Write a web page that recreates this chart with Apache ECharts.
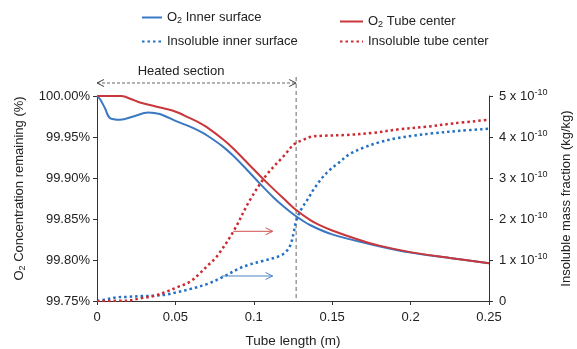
<!DOCTYPE html>
<html>
<head>
<meta charset="utf-8">
<script src="https://cdn.jsdelivr.net/npm/echarts@6/dist/echarts.min.js"></script>
<style>
html,body{margin:0;padding:0;background:#fff;overflow:hidden;}
#c{width:577px;height:349px;}
</style>
</head>
<body>
<div id="c"></div>
<script>
// ---- data ----
// O2 inner surface (solid blue), % remaining
var xO2Inner = [0, 0.002, 0.0051, 0.0083, 0.0147, 0.0232, 0.0327, 0.040, 0.0508, 0.0593, 0.0657, 0.0705, 0.0805, 0.0869, 0.095, 0.1037, 0.1124, 0.1187, 0.127, 0.1358, 0.15, 0.175, 0.2, 0.225, 0.25];
var o2Inner  = [100, 99.996, 99.985, 99.973, 99.971, 99.975, 99.980, 99.978, 99.969, 99.9626, 99.9568, 99.9515, 99.938, 99.9271, 99.9113, 99.8935, 99.8765, 99.8658, 99.8533, 99.8427, 99.8313, 99.819, 99.809, 99.8025, 99.796];
// O2 tube center (solid red), % remaining
var xO2Center = [0, 0.0157, 0.022, 0.0274, 0.038, 0.0486, 0.0593, 0.0657, 0.070, 0.0805, 0.0869, 0.0997, 0.108, 0.119, 0.127, 0.1358, 0.142, 0.15, 0.165, 0.18, 0.2016, 0.225, 0.25];
var o2Center  = [100, 100, 99.996, 99.992, 99.987, 99.982, 99.973, 99.967, 99.962, 99.947, 99.936, 99.911, 99.895, 99.875, 99.861, 99.849, 99.8425, 99.836, 99.826, 99.8175, 99.809, 99.8025, 99.796];
// Insoluble inner surface (dotted blue), x 1e-10 kg/kg
var xInsInner = [0, 0.006, 0.0125, 0.019, 0.0285, 0.036, 0.0444, 0.0508, 0.0593, 0.070, 0.0805, 0.091, 0.0965, 0.106, 0.1166, 0.121, 0.1235, 0.1255, 0.127, 0.130, 0.1347, 0.138, 0.1435, 0.1485, 0.1538, 0.161, 0.170, 0.180, 0.191, 0.2016, 0.214, 0.231, 0.25];
var insInner  = [0, 0.04, 0.09, 0.10, 0.12, 0.13, 0.16, 0.21, 0.29, 0.41, 0.59, 0.80, 0.88, 0.98, 1.10, 1.22, 1.38, 1.68, 1.95, 2.22, 2.50, 2.71, 3.00, 3.20, 3.36, 3.58, 3.74, 3.87, 3.97, 4.03, 4.09, 4.15, 4.20];
// Insoluble tube center (dotted red), x 1e-10 kg/kg
var xInsCenter = [0, 0.019, 0.0285, 0.036, 0.0444, 0.0508, 0.0593, 0.0657, 0.071, 0.0763, 0.0869, 0.0975, 0.108, 0.1187, 0.126, 0.1315, 0.137, 0.144, 0.159, 0.176, 0.193, 0.210, 0.227, 0.25];
var insCenter  = [0, 0.01, 0.07, 0.12, 0.23, 0.33, 0.47, 0.68, 0.88, 1.08, 1.69, 2.46, 3.07, 3.52, 3.83, 3.93, 4.01, 4.03, 4.05, 4.10, 4.19, 4.25, 4.33, 4.42];

var xTicks = [0, 0.05, 0.1, 0.15, 0.2, 0.25];
var leftTicks = [99.75, 99.80, 99.85, 99.90, 99.95, 100.00];
var rightTicks = [0, 1, 2, 3, 4, 5];

// annotations
var heatedEnd = 0.127;
var redArrow = {x0: 0.0869, x1: 0.112, y: 1.70};
var blueArrow = {x0: 0.0795, x1: 0.112, y: 0.61};

var BLUE = '#3a78c3', RED = '#c8373b', BLUE_DOT = '#2270c4', RED_DOT = '#cc2a30';
var FONT = '"Liberation Sans", Arial, Helvetica, sans-serif';

function pairs(xs, ys){ return xs.map(function(x,i){ return [x, ys[i]]; }); }

var chart = echarts.init(document.getElementById('c'), null, {width: 577, height: 349});
var names = ['O2 Inner surface', 'Insoluble inner surface', 'O2 Tube center', 'Insoluble tube center'];
function legendFmt(n){
  if (n.indexOf('O2') === 0) return '{a|O}{s|2}{a|' + n.slice(2) + '}';
  return '{a|' + n + '}';
}
var legendRich = {
  a: {fontSize: 13, fontFamily: FONT, color: '#222'},
  s: {fontSize: 9, fontFamily: FONT, color: '#222', padding: [6, 0, 0, 0]}
};
function mkLegend(name, left, top, w){
  return {
    data: [name], left: left, top: top, padding: 0, itemWidth: w, itemHeight: 14, itemGap: 5,
    itemStyle: {opacity: 0},
    formatter: legendFmt, textStyle: {fontFamily: FONT, fontSize: 13, color: '#222', rich: legendRich},
    selectedMode: false
  };
}

var option = {
  animation: false,
  textStyle: {fontFamily: FONT},
  legend: [
    mkLegend(names[0], 141, 11, 20),
    mkLegend(names[1], 141, 35, 20),
    mkLegend(names[2], 339, 15, 23),
    mkLegend(names[3], 339, 35, 23)
  ],
  grid: {left: 97, right: 88, top: 96, bottom: 48, containLabel: false, outerBoundsMode: 'none'},
  xAxis: {
    type: 'value', min: 0, max: 0.25, interval: 0.05,
    name: 'Tube length (m)', nameLocation: 'middle', nameGap: 33,
    nameTextStyle: {fontSize: 13.5, color: '#222', fontFamily: FONT},
    axisLine: {lineStyle: {color: '#333', width: 1}},
    axisTick: {show: true, inside: false, length: 4, lineStyle: {color: '#333'}},
    axisLabel: {fontSize: 13, color: '#222', margin: 10, fontFamily: FONT,
      formatter: function(v){ var r = Math.round(v*100)/100; return xTicks.indexOf(r) >= 0 ? String(r) : ''; }},
    splitLine: {show: false}
  },
  yAxis: [
    {
      type: 'value', min: 99.75, max: 100, interval: 0.05, position: 'left',
      name: '{a|O}{s|2}{a| Concentration remaining (%)}', nameLocation: 'middle', nameGap: 70, nameRotate: 90,
      nameTextStyle: {fontSize: 13, color: '#222', fontFamily: FONT, padding: [0, 0, 0, 20],
        rich: {a: {fontSize: 13, fontFamily: FONT, color: '#222'}, s: {fontSize: 9, fontFamily: FONT, color: '#222', padding: [6,0,0,0]}}},
      axisLine: {show: true, lineStyle: {color: '#333', width: 1}},
      axisTick: {show: true, length: 4, lineStyle: {color: '#333'}},
      axisLabel: {fontSize: 13, color: '#222', margin: 7, fontFamily: FONT,
        formatter: function(v){ return v.toFixed(2) + '%'; }},
      splitLine: {show: false}
    },
    {
      type: 'value', min: 0, max: 5, interval: 1, position: 'right',
      name: 'Insoluble mass fraction (kg/kg)', nameLocation: 'middle', nameGap: 71, nameRotate: 90,
      nameTextStyle: {fontSize: 13, color: '#222', fontFamily: FONT},
      axisLine: {show: true, lineStyle: {color: '#333', width: 1}},
      axisTick: {show: true, length: 4, lineStyle: {color: '#333'}},
      axisLabel: {fontSize: 13, color: '#222', margin: 10, fontFamily: FONT,
        formatter: function(v){ var r = Math.round(v); return r === 0 ? '{a|0}' : '{a|' + r + ' x 10}{b|-10}'; },
        rich: {a: {fontSize: 13, fontFamily: FONT, color: '#222'}, b: {fontSize: 9, fontFamily: FONT, color: '#222', padding: [0,0,7,0]}}},
      splitLine: {show: false}
    }
  ],
  series: [
    {name: names[0], type: 'line', yAxisIndex: 0, data: pairs(xO2Inner, o2Inner), smooth: 0.35,
      symbol: 'none', lineStyle: {color: BLUE, width: 2}, itemStyle: {color: BLUE}, z: 3},
    {name: names[2], type: 'line', yAxisIndex: 0, data: pairs(xO2Center, o2Center), smooth: 0.35,
      symbol: 'none', lineStyle: {color: RED, width: 2}, itemStyle: {color: RED}, z: 4},
    {name: names[1], type: 'line', yAxisIndex: 1, data: pairs(xInsInner, insInner), smooth: 0.35,
      symbol: 'none', lineStyle: {color: BLUE_DOT, width: 2.5, type: [2.5, 3]}, itemStyle: {color: BLUE_DOT}, z: 2},
    {name: names[3], type: 'line', yAxisIndex: 1, data: pairs(xInsCenter, insCenter), smooth: 0.35,
      symbol: 'none', lineStyle: {color: RED_DOT, width: 2.5, type: [2.5, 3]}, itemStyle: {color: RED_DOT}, z: 2}
  ]
};
chart.setOption(option);

function px(x, y){ return chart.convertToPixel({xAxisIndex: 0, yAxisIndex: 1}, [x, y]); }
function arrowGraphic(a, color){
  var p0 = px(a.x0, a.y), p1 = px(a.x1, a.y);
  return [
    {type: 'line', shape: {x1: p0[0], y1: p0[1], x2: p1[0], y2: p1[1]}, style: {stroke: color, lineWidth: 1}, z: 10},
    {type: 'polyline', shape: {points: [[p1[0]-7, p1[1]-3.5], [p1[0], p1[1]], [p1[0]-7, p1[1]+3.5]]}, style: {stroke: color, lineWidth: 1, fill: null}, z: 10}
  ];
}
var pStart = px(0, 0), pEnd = px(heatedEnd, 0), pTop = px(0, 5);
var ay = pTop[1] - 13;
var g = [];
g.push({type: 'line', shape: {x1: pEnd[0], y1: ay - 6, x2: pEnd[0], y2: pStart[1]}, style: {stroke: '#666', lineWidth: 1, lineDash: [4, 3]}, z: 1});
g.push({type: 'line', shape: {x1: pStart[0], y1: ay, x2: pEnd[0], y2: ay}, style: {stroke: '#666', lineWidth: 1, lineDash: [3, 2]}});
g.push({type: 'polyline', shape: {points: [[pStart[0]+7, ay-3.5], [pStart[0], ay], [pStart[0]+7, ay+3.5]]}, style: {stroke: '#444', lineWidth: 1, fill: null}});
g.push({type: 'polyline', shape: {points: [[pEnd[0]-7, ay-3.5], [pEnd[0], ay], [pEnd[0]-7, ay+3.5]]}, style: {stroke: '#444', lineWidth: 1, fill: null}});
g.push({type: 'text', x: 181, y: ay - 12, style: {text: 'Heated section', fontSize: 13, fontFamily: FONT, fill: '#222', align: 'center', verticalAlign: 'middle'}});
g = g.concat(arrowGraphic(redArrow, '#d0504f'), arrowGraphic(blueArrow, '#4a82c6'));
chart.setOption({graphic: g});
</script>
</body>
</html>
